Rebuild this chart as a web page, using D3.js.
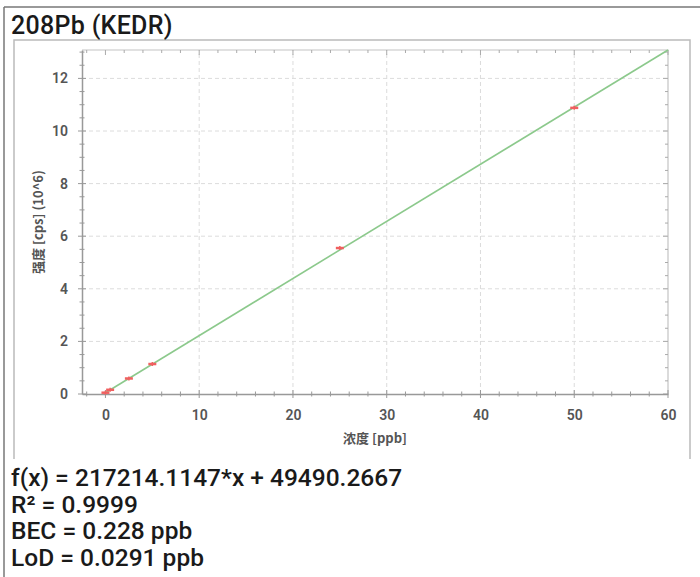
<!DOCTYPE html>
<html>
<head>
<meta charset="utf-8">
<script src="https://cdn.jsdelivr.net/npm/d3@7"></script>
<style>
  body { margin: 0; background: #fff; }
  svg { display: block; font-family: Roboto, "Noto Sans", sans-serif; }
</style>
</head>
<body>
<svg id="chart" width="700" height="577"></svg>
<script>
// calibration standards (ppb) and measured intensity (10^6 cps)
const concentrations = [0, 0.5, 2.5, 5, 25, 50];
const intensities = [0.05, 0.16, 0.59, 1.14, 5.55, 10.88];
// fitted line end points
const fitX = [0, 60];
const fitY = [0.049, 13.08];
const xTicks = [0, 10, 20, 30, 40, 50, 60];
const yTicks = [0, 2, 4, 6, 8, 10, 12];
const titleText = "208Pb (KEDR)";
const infoLines = [
  "f(x) = 217214.1147*x + 49490.2667",
  "R² = 0.9999",
  "BEC = 0.228 ppb",
  "LoD = 0.0291 ppb"
];

const margin = { top: 50, right: 32, bottom: 183, left: 82 };
const width = 700, height = 577;
const svg = d3.select("#chart");

// frames
svg.append("line").attr("x1", 4).attr("x2", 700).attr("y1", 7).attr("y2", 7)
  .attr("stroke", "#777").attr("stroke-width", 1.5);
svg.append("line").attr("x1", 4).attr("x2", 4).attr("y1", 7).attr("y2", 577)
  .attr("stroke", "#777").attr("stroke-width", 1.5);
svg.append("path").attr("d", "M14,459 V40 H690 V459")
  .attr("fill", "none").attr("stroke", "#bbb").attr("stroke-width", 1.5);

svg.append("text").attr("x", 11).attr("y", 34)
  .attr("font-size", "25px").attr("font-weight", 500).attr("fill", "#1a1a1a")
  .attr("letter-spacing", "0.3px")
  .text(titleText);

const x = d3.scaleLinear().domain([-2.5, 60])
  .range([margin.left, width - margin.right]);
const y = d3.scaleLinear().domain([0, 13.08])
  .range([height - margin.bottom, margin.top]);

const x0 = x.range()[0], x1 = x.range()[1];
const y0 = y.range()[0], y1 = y.range()[1];

// grid
const grid = svg.append("g").attr("stroke", "#dcdcdc").attr("stroke-dasharray", "4,3");
grid.selectAll(".gx").data(xTicks.filter(d => d > 0 && d < 60)).join("line")
  .attr("x1", d => x(d)).attr("x2", d => x(d)).attr("y1", y0).attr("y2", y1);
grid.selectAll(".gy").data(yTicks.filter(d => d > 0)).join("line")
  .attr("x1", x0).attr("x2", x1).attr("y1", d => y(d)).attr("y2", d => y(d));

// minor tick values
const xMinor = d3.range(-2, 60.1, 2);
const yMinor = d3.range(0, 13.01, 0.5);

// top and right frame with inner ticks
svg.append("path").attr("d", `M${x0},${y1} H${x1} V${y0}`)
  .attr("fill", "none").attr("stroke", "#c4c4c4").attr("stroke-width", 1.2);
svg.append("g").attr("stroke", "#aaa").selectAll("line").data(xMinor).join("line")
  .attr("x1", d => x(d)).attr("x2", d => x(d))
  .attr("y1", y1).attr("y2", d => y1 + (d % 10 === 0 ? 5 : 3));
svg.append("g").attr("stroke", "#aaa").selectAll("line").data(yMinor).join("line")
  .attr("x1", x1).attr("x2", d => x1 - (d % 2 === 0 ? 5 : 3))
  .attr("y1", d => y(d)).attr("y2", d => y(d));

// bottom axis
const xAxis = svg.append("g").attr("transform", `translate(0,${y0})`)
  .call(d3.axisBottom(x).tickValues(xTicks).tickSize(0).tickPadding(16));
xAxis.select(".domain").attr("stroke", "#999").attr("stroke-width", 1.5);
xAxis.selectAll("text").attr("font-size", "14px").attr("font-weight", 600)
  .attr("fill", "#555").attr("font-family", "Roboto, sans-serif");
svg.append("g").attr("stroke", "#999").selectAll("line").data(xMinor).join("line")
  .attr("x1", d => x(d)).attr("x2", d => x(d))
  .attr("y1", d => y0 - (d % 10 === 0 ? 4 : 2.5))
  .attr("y2", d => y0 + (d % 10 === 0 ? 4 : 2.5));

// left axis
const yAxis = svg.append("g").attr("transform", `translate(${x0},0)`)
  .call(d3.axisLeft(y).tickValues(yTicks).tickSize(0).tickPadding(14));
yAxis.select(".domain").attr("stroke", "#999").attr("stroke-width", 1.5);
yAxis.selectAll("text").attr("font-size", "14px").attr("font-weight", 600)
  .attr("fill", "#555").attr("font-family", "Roboto, sans-serif");
svg.append("g").attr("stroke", "#999").selectAll("line").data(yMinor).join("line")
  .attr("x1", d => x0 - (d % 2 === 0 ? 4 : 2.5))
  .attr("x2", d => x0 + (d % 2 === 0 ? 4 : 2.5))
  .attr("y1", d => y(d)).attr("y2", d => y(d));

// axis titles
svg.append("text").attr("x", (x0 + x1) / 2).attr("y", 443)
  .attr("text-anchor", "middle").attr("font-size", "13px").attr("font-weight", 600)
  .attr("fill", "#555").attr("font-family", "'Noto Sans CJK SC', sans-serif")
  .text("浓度 [ppb]");
svg.append("text")
  .attr("transform", `translate(43,${(y0 + y1) / 2}) rotate(-90)`)
  .attr("text-anchor", "middle").attr("font-size", "13px").attr("font-weight", 600)
  .attr("fill", "#555").attr("font-family", "'Noto Sans CJK SC', sans-serif")
  .text("强度 [cps] (10^6)");

// fit line
const fitData = fitX.map((d, i) => ({ x: d, y: fitY[i] }));
svg.append("path").datum(fitData)
  .attr("d", d3.line().x(d => x(d.x)).y(d => y(d.y)))
  .attr("fill", "none").attr("stroke", "#8cc98c").attr("stroke-width", 1.6);

// standards
const pts = concentrations.map((d, i) => ({ x: d, y: intensities[i] }));
const marks = svg.append("g").attr("stroke", "#f06060");
marks.selectAll(".h").data(pts).join("line")
  .attr("x1", d => x(d.x) - 4).attr("x2", d => x(d.x) + 4)
  .attr("y1", d => y(d.y)).attr("y2", d => y(d.y)).attr("stroke-width", 2.5);
marks.selectAll(".v").data(pts).join("line")
  .attr("x1", d => x(d.x)).attr("x2", d => x(d.x))
  .attr("y1", d => y(d.y) - 2).attr("y2", d => y(d.y) + 2).attr("stroke-width", 1.5);

// result text
svg.append("g").selectAll("text").data(infoLines).join("text")
  .attr("x", 11).attr("y", (d, i) => 486 + i * 26.5)
  .attr("font-size", "24.5px").attr("font-weight", 500).attr("fill", "#1a1a1a")
  .text(d => d);
</script>
</body>
</html>
